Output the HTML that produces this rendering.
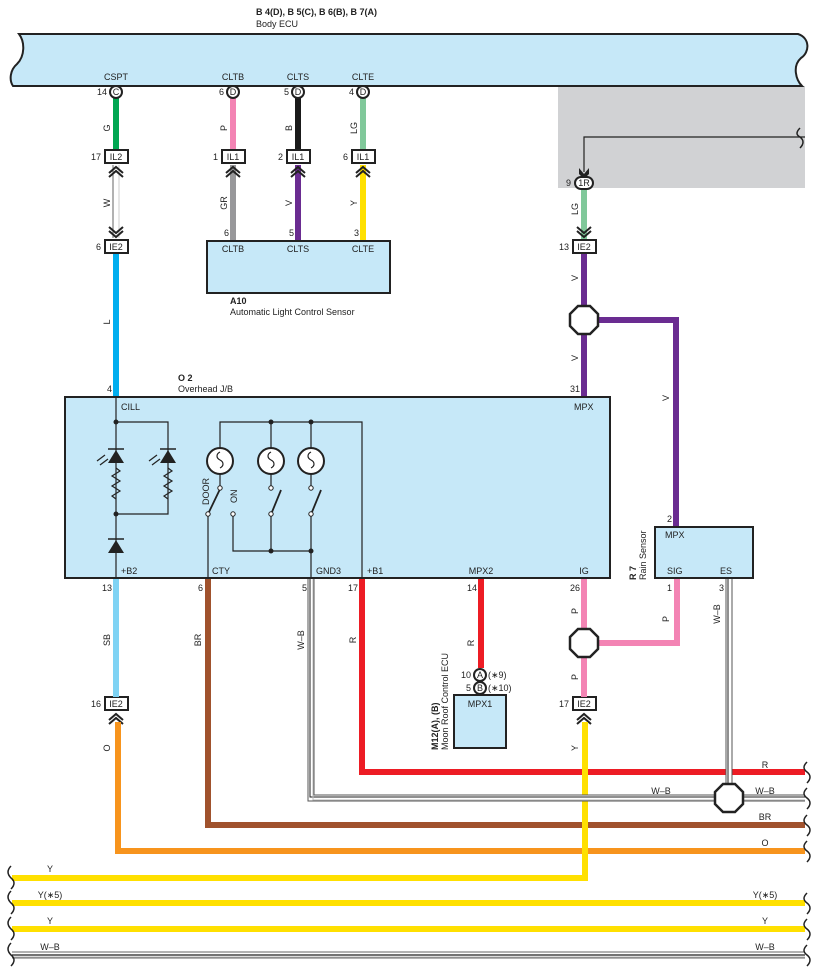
<!DOCTYPE html>
<html><head><meta charset="utf-8"><style>
html,body{margin:0;padding:0;background:#fff;}
svg{display:block;}
text{font-family:"Liberation Sans",sans-serif;font-size:9px;fill:#222;}
.b{font-weight:bold;}
</style></head><body>
<svg width="817" height="977" viewBox="0 0 817 977" xmlns="http://www.w3.org/2000/svg">
<!-- gray area -->
<rect x="558" y="86" width="247" height="102" fill="#d1d2d4"/>
<!-- Body ECU -->
<path d="M19,34 L798,34 C810,38 810,52 801,58 C792,66 796,80 802,86 L13,86 C9,80 10,70 17,64 C25,56 25,42 19,34 Z" fill="#c6e8f8" stroke="#222" stroke-width="2"/>
<text x="256" y="15" class="b">B 4(D), B 5(C), B 6(B), B 7(A)</text>
<text x="256" y="27">Body ECU</text>
<text x="116" y="80" text-anchor="middle">CSPT</text>
<text x="233" y="80" text-anchor="middle">CLTB</text>
<text x="298" y="80" text-anchor="middle">CLTS</text>
<text x="363" y="80" text-anchor="middle">CLTE</text>

<!-- wires top -->
<g stroke-width="6" fill="none">
<line x1="116" y1="98" x2="116" y2="150" stroke="#00a651"/>
<line x1="233" y1="98" x2="233" y2="150" stroke="#f384b4"/>
<line x1="298" y1="98" x2="298" y2="150" stroke="#1a1a1a"/>
<line x1="363" y1="98" x2="363" y2="150" stroke="#80c89a"/>
<line x1="233" y1="165" x2="233" y2="241" stroke="#98989a"/>
<line x1="298" y1="165" x2="298" y2="241" stroke="#6a2c91"/>
<line x1="363" y1="165" x2="363" y2="241" stroke="#ffe000"/>
<line x1="116" y1="253" x2="116" y2="397" stroke="#00aeef"/>
<line x1="584" y1="189" x2="584" y2="240" stroke="#80c89a"/>
<polyline points="584,253 584,397" stroke="#6a2c91"/>
<polyline points="597,320 676,320 676,527" stroke="#6a2c91"/>
</g>
<!-- W double wire -->
<line x1="116" y1="165" x2="116" y2="238" stroke="#666" stroke-width="7"/>
<line x1="116" y1="165" x2="116" y2="238" stroke="#fff" stroke-width="5"/>
<line x1="119" y1="165" x2="119" y2="238" stroke="#ccc" stroke-width="1"/>

<!-- connector circles -->
<g stroke="#222" stroke-width="2" fill="#fff">
<circle cx="116" cy="92" r="6"/><circle cx="233" cy="92" r="6"/><circle cx="298" cy="92" r="6"/><circle cx="363" cy="92" r="6"/>
</g>
<text x="116" y="95" text-anchor="middle" font-size="8">C</text>
<text x="233" y="95" text-anchor="middle" font-size="8">D</text>
<text x="298" y="95" text-anchor="middle" font-size="8">D</text>
<text x="363" y="95" text-anchor="middle" font-size="8">D</text>
<text x="107" y="95" text-anchor="end">14</text>
<text x="224" y="95" text-anchor="end">6</text>
<text x="289" y="95" text-anchor="end">5</text>
<text x="354" y="95" text-anchor="end">4</text>

<!-- wire labels rotated -->
<g>
<text transform="translate(110,128) rotate(-90)" text-anchor="middle">G</text>
<text transform="translate(227,128) rotate(-90)" text-anchor="middle">P</text>
<text transform="translate(292,128) rotate(-90)" text-anchor="middle">B</text>
<text transform="translate(357,128) rotate(-90)" text-anchor="middle">LG</text>
<text transform="translate(110,203) rotate(-90)" text-anchor="middle">W</text>
<text transform="translate(227,203) rotate(-90)" text-anchor="middle">GR</text>
<text transform="translate(292,203) rotate(-90)" text-anchor="middle">V</text>
<text transform="translate(357,203) rotate(-90)" text-anchor="middle">Y</text>
<text transform="translate(110,322) rotate(-90)" text-anchor="middle">L</text>
<text transform="translate(578,209) rotate(-90)" text-anchor="middle">LG</text>
<text transform="translate(578,278) rotate(-90)" text-anchor="middle">V</text>
<text transform="translate(578,358) rotate(-90)" text-anchor="middle">V</text>
<text transform="translate(669,398) rotate(-90)" text-anchor="middle">V</text>
<text transform="translate(110,640) rotate(-90)" text-anchor="middle">SB</text>
<text transform="translate(201,640) rotate(-90)" text-anchor="middle">BR</text>
<text transform="translate(304,640) rotate(-90)" text-anchor="middle">W–B</text>
<text transform="translate(356,640) rotate(-90)" text-anchor="middle">R</text>
<text transform="translate(474,643) rotate(-90)" text-anchor="middle">R</text>
<text transform="translate(578,611) rotate(-90)" text-anchor="middle">P</text>
<text transform="translate(578,677) rotate(-90)" text-anchor="middle">P</text>
<text transform="translate(669,619) rotate(-90)" text-anchor="middle">P</text>
<text transform="translate(720,614) rotate(-90)" text-anchor="middle">W–B</text>
<text transform="translate(110,748) rotate(-90)" text-anchor="middle">O</text>
<text transform="translate(578,748) rotate(-90)" text-anchor="middle">Y</text>
</g>

<!-- A10 -->
<rect x="207" y="241" width="183" height="52" fill="#c6e8f8" stroke="#222" stroke-width="2"/>
<text x="233" y="252" text-anchor="middle">CLTB</text>
<text x="298" y="252" text-anchor="middle">CLTS</text>
<text x="363" y="252" text-anchor="middle">CLTE</text>
<text x="229" y="236" text-anchor="end">6</text>
<text x="294" y="236" text-anchor="end">5</text>
<text x="359" y="236" text-anchor="end">3</text>
<text x="230" y="304" class="b">A10</text>
<text x="230" y="315">Automatic Light Control Sensor</text>

<!-- 1R -->
<polyline points="805,137 584,137 584,172" fill="none" stroke="#222" stroke-width="1.2"/>
<path d="M800,128 C796,132 796,135 800,137 C804,140 804,144 800,148" fill="none" stroke="#222" stroke-width="1.5"/>
<path d="M579,168 L584,174 L589,168 L589,174 L584,179 L579,174 Z" fill="#222"/>
<rect x="575" y="177" width="18" height="12" rx="6" fill="#fff" stroke="#222" stroke-width="2"/>
<text x="584" y="186" text-anchor="middle" font-size="8">1R</text>
<text x="571" y="186" text-anchor="end">9</text>

<!-- connector boxes -->
<g stroke="#222" stroke-width="2" fill="#fff">
<rect x="105" y="150" width="23" height="13"/>
<rect x="222" y="150" width="23" height="13"/>
<rect x="287" y="150" width="23" height="13"/>
<rect x="352" y="150" width="23" height="13"/>
<rect x="105" y="240" width="23" height="13"/>
<rect x="573" y="240" width="23" height="13"/>
<rect x="105" y="697" width="23" height="13"/>
<rect x="573" y="697" width="23" height="13"/>
</g>
<g text-anchor="middle">
<text x="116" y="160">IL2</text><text x="233" y="160">IL1</text><text x="298" y="160">IL1</text><text x="363" y="160">IL1</text>
<text x="116" y="250">IE2</text><text x="584" y="250">IE2</text><text x="116" y="707">IE2</text><text x="584" y="707">IE2</text>
</g>
<g text-anchor="end">
<text x="101" y="160">17</text><text x="218" y="160">1</text><text x="283" y="160">2</text><text x="348" y="160">6</text>
<text x="101" y="250">6</text><text x="569" y="250">13</text><text x="101" y="707">16</text><text x="569" y="707">17</text>
</g>
<!-- chevrons -->
<g fill="none" stroke="#222" stroke-width="2">
<polyline points="109,173 116,167 123,173"/><polyline points="109,177 116,171 123,177"/>
<polyline points="226,173 233,167 240,173"/><polyline points="226,177 233,171 240,177"/>
<polyline points="291,173 298,167 305,173"/><polyline points="291,177 298,171 305,177"/>
<polyline points="356,173 363,167 370,173"/><polyline points="356,177 363,171 370,177"/>
<polyline points="109,227 116,233 123,227"/><polyline points="109,231 116,237 123,231"/>
<polyline points="577,227 584,233 591,227"/><polyline points="577,231 584,237 591,231"/>
<polyline points="109,720 116,714 123,720"/><polyline points="109,724 116,718 123,724"/>
<polyline points="577,720 584,714 591,720"/><polyline points="577,724 584,718 591,724"/>
</g>

<!-- lower wires -->
<g fill="none" stroke-width="6">
<line x1="116" y1="579" x2="116" y2="697" stroke="#7fd3f4"/>
<polyline points="118,722 118,851 805,851" stroke="#f7941d"/>
<polyline points="208,579 208,825 805,825" stroke="#a0522d"/>
<polyline points="362,579 362,772 805,772" stroke="#ed1c24"/>
<line x1="481" y1="579" x2="481" y2="668" stroke="#ed1c24"/>
<line x1="584" y1="579" x2="584" y2="697" stroke="#f384b4"/>
<polyline points="597,643 677,643 677,579" stroke="#f384b4"/>
<polyline points="585,722 585,878 12,878" stroke="#ffe000"/>
<line x1="12" y1="903" x2="805" y2="903" stroke="#ffe000"/>
<line x1="12" y1="929" x2="805" y2="929" stroke="#ffe000"/>
</g>
<!-- W-B wires -->
<g fill="none">
<polyline points="311,579 311,798 805,798" stroke="#555" stroke-width="7"/>
<polyline points="311,579 311,798 805,798" stroke="#fff" stroke-width="5"/>
<polyline points="310,579 310,797 805,797" stroke="#222" stroke-width="1"/>
<polyline points="313,579 313,800 805,800" stroke="#bbb" stroke-width="1"/>
<line x1="729" y1="579" x2="729" y2="798" stroke="#555" stroke-width="7"/>
<line x1="729" y1="579" x2="729" y2="798" stroke="#fff" stroke-width="5"/>
<line x1="728" y1="579" x2="728" y2="798" stroke="#222" stroke-width="1"/>
<line x1="12" y1="955" x2="805" y2="955" stroke="#666" stroke-width="7"/>
<line x1="12" y1="955" x2="805" y2="955" stroke="#fff" stroke-width="5"/>
<line x1="12" y1="955" x2="805" y2="955" stroke="#222" stroke-width="1.2"/>
<line x1="12" y1="957" x2="805" y2="957" stroke="#bbb" stroke-width="1"/>
</g>
<!-- octagons -->
<g fill="#fff" stroke="#222" stroke-width="2.5">
<polygon points="578,306 590,306 598,314 598,326 590,334 578,334 570,326 570,314"/>
<polygon points="578,629 590,629 598,637 598,649 590,657 578,657 570,649 570,637"/>
<polygon points="723,784 735,784 743,792 743,804 735,812 723,812 715,804 715,792"/>
</g>

<!-- right labels -->
<g text-anchor="middle">
<text x="765" y="768">R</text><text x="661" y="794">W–B</text><text x="765" y="794">W–B</text>
<text x="765" y="820">BR</text><text x="765" y="846">O</text>
<text x="50" y="872">Y</text><text x="50" y="898">Y(∗5)</text><text x="765" y="898">Y(∗5)</text>
<text x="50" y="924">Y</text><text x="765" y="924">Y</text>
<text x="50" y="950">W–B</text><text x="765" y="950">W–B</text>
</g>
<!-- braces -->
<g fill="none" stroke="#222" stroke-width="1.5">
<path d="M807,762 C803,766 803,769 807,772 C811,775 811,779 807,783"/>
<path d="M807,788 C803,792 803,795 807,798 C811,801 811,805 807,809"/>
<path d="M807,815 C803,819 803,822 807,825 C811,828 811,832 807,836"/>
<path d="M807,841 C803,845 803,848 807,851 C811,854 811,858 807,862"/>
<path d="M807,893 C803,897 803,900 807,903 C811,906 811,910 807,914"/>
<path d="M807,919 C803,923 803,926 807,929 C811,932 811,936 807,940"/>
<path d="M807,945 C803,949 803,952 807,955 C811,958 811,962 807,966"/>
<path d="M11,866 C7,870 7,874 11,878 C15,881 15,885 11,889"/>
<path d="M11,891 C7,895 7,899 11,903 C15,906 15,910 11,914"/>
<path d="M11,917 C7,921 7,925 11,929 C15,932 15,936 11,940"/>
<path d="M11,943 C7,947 7,951 11,955 C15,958 15,962 11,966"/>
</g>

<!-- O2 box -->
<rect x="65" y="397" width="545" height="181" fill="#c6e8f8" stroke="#222" stroke-width="2"/>
<text x="178" y="381" class="b">O 2</text>
<text x="178" y="392">Overhead J/B</text>
<text x="112" y="392" text-anchor="end">4</text>
<text x="580" y="392" text-anchor="end">31</text>
<text x="121" y="410">CILL</text>
<text x="574" y="410">MPX</text>
<text x="121" y="574">+B2</text><text x="212" y="574">CTY</text><text x="316" y="574">GND3</text><text x="367" y="574">+B1</text>
<text x="481" y="574" text-anchor="middle">MPX2</text><text x="584" y="574" text-anchor="middle">IG</text>
<g text-anchor="end">
<text x="112" y="591">13</text><text x="203" y="591">6</text><text x="307" y="591">5</text><text x="358" y="591">17</text>
<text x="477" y="591">14</text><text x="580" y="591">26</text><text x="672" y="591">1</text><text x="724" y="591">3</text><text x="672" y="522">2</text>
</g>
<!-- internal circuit -->
<g fill="none" stroke="#222" stroke-width="1.2">
<polyline points="116,397 116,578"/>
<polyline points="116,422 168,422 168,514 116,514"/>
<path d="M116,468 l4,3 -8,5 8,5 -8,5 8,5 -8,5 4,3" />
<path d="M168,468 l4,3 -8,5 8,5 -8,5 8,5 -8,5 4,3" />
<polyline points="220,461 220,422 362,422 362,578"/>
<line x1="271" y1="422" x2="271" y2="461"/><line x1="311" y1="422" x2="311" y2="461"/>
<line x1="220" y1="473" x2="220" y2="486"/><line x1="271" y1="473" x2="271" y2="486"/><line x1="311" y1="473" x2="311" y2="486"/>
<line x1="208" y1="516" x2="208" y2="578"/>
<polyline points="233,516 233,551 311,551"/>
<line x1="271" y1="516" x2="271" y2="551"/>
<line x1="311" y1="516" x2="311" y2="578"/>
<line x1="209" y1="512" x2="221" y2="487" stroke-width="1.8"/>
<line x1="272" y1="512" x2="281" y2="490" stroke-width="1.8"/>
<line x1="312" y1="512" x2="321" y2="490" stroke-width="1.8"/>
</g>
<g fill="#fff" stroke="#222" stroke-width="1">
<circle cx="220" cy="488" r="2.2"/><circle cx="208" cy="514" r="2.2"/><circle cx="233" cy="514" r="2.2"/>
<circle cx="271" cy="488" r="2.2"/><circle cx="271" cy="514" r="2.2"/>
<circle cx="311" cy="488" r="2.2"/><circle cx="311" cy="514" r="2.2"/>
</g>
<g fill="#fff" stroke="#222" stroke-width="2">
<circle cx="220" cy="461" r="13"/><circle cx="271" cy="461" r="13"/><circle cx="311" cy="461" r="13"/>
</g>
<g fill="none" stroke="#222" stroke-width="1.2">
<path d="M220,452 c-4,2 -4,6 0,8 c4,2 4,6 0,8"/>
<path d="M271,452 c-4,2 -4,6 0,8 c4,2 4,6 0,8"/>
<path d="M311,452 c-4,2 -4,6 0,8 c4,2 4,6 0,8"/>
</g>
<g fill="#222">
<circle cx="116" cy="422" r="2.5"/><circle cx="116" cy="514" r="2.5"/>
<circle cx="271" cy="422" r="2.5"/><circle cx="311" cy="422" r="2.5"/>
<circle cx="271" cy="551" r="2.5"/><circle cx="311" cy="551" r="2.5"/>
<polygon points="108,463 124,463 116,450"/><line x1="108" y1="449" x2="124" y2="449" stroke="#222" stroke-width="1.5"/>
<polygon points="160,463 176,463 168,450"/><line x1="160" y1="449" x2="176" y2="449" stroke="#222" stroke-width="1.5"/>
<polygon points="108,553 124,553 116,540"/><line x1="108" y1="539" x2="124" y2="539" stroke="#222" stroke-width="1.5"/>
</g>
<g stroke="#222" stroke-width="1.2">
<line x1="97" y1="461" x2="105" y2="455"/><line x1="100" y1="465" x2="108" y2="459"/>
<line x1="149" y1="461" x2="157" y2="455"/><line x1="152" y1="465" x2="160" y2="459"/>
</g>
<text transform="translate(209,505) rotate(-90)">DOOR</text>
<text transform="translate(237,503) rotate(-90)">ON</text>

<!-- R7 -->
<rect x="655" y="527" width="98" height="51" fill="#c6e8f8" stroke="#222" stroke-width="2"/>
<text x="665" y="538">MPX</text>
<text x="667" y="574">SIG</text><text x="720" y="574">ES</text>
<text transform="translate(636,580) rotate(-90)" class="b">R 7</text>
<text transform="translate(646,580) rotate(-90)">Rain Sensor</text>

<!-- M12 -->
<g stroke="#222" stroke-width="2" fill="#fff">
<circle cx="480" cy="675" r="6"/><circle cx="480" cy="688" r="6"/>
</g>
<text x="480" y="678" text-anchor="middle" font-size="8">A</text>
<text x="480" y="691" text-anchor="middle" font-size="8">B</text>
<text x="471" y="678" text-anchor="end">10</text><text x="471" y="691" text-anchor="end">5</text>
<text x="488" y="678">(∗9)</text><text x="488" y="691">(∗10)</text>
<rect x="454" y="695" width="52" height="53" fill="#c6e8f8" stroke="#222" stroke-width="2"/>
<text x="480" y="707" text-anchor="middle">MPX1</text>
<text transform="translate(438,750) rotate(-90)" class="b">M12(A), (B)</text>
<text transform="translate(448,750) rotate(-90)">Moon Roof Control ECU</text>
</svg>
</body></html>
